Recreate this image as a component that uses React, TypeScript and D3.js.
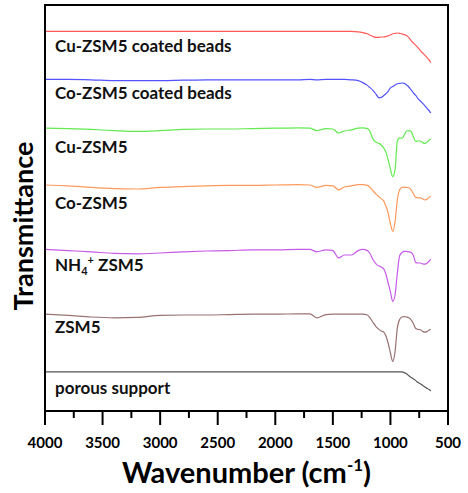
import React from 'react';
import * as d3 from 'd3';

// FTIR spectra, stacked (arbitrary transmittance units)
const wavenumbers = [
  4000, 3800, 3600, 3400, 3200, 3000, 2800, 2600, 2400, 2200,
  2000, 1800, 1700, 1640, 1560, 1500, 1450, 1400, 1340, 1280,
  1240, 1200, 1180, 1150, 1120, 1100, 1080, 1060, 1040, 1020,
  1000, 980, 960, 940, 920, 900, 880, 860, 840, 820,
  800, 780, 760, 740, 720, 700, 680, 660, 650,
];

const cuCoatedBeads = [
  94.9, 94.9, 94.9, 94.9, 94.9, 94.9, 94.9, 94.9, 94.9, 94.9,
  94.9, 94.9, 94.9, 94.9, 94.9, 94.9, 94.9, 94.9, 94.9, 94.8,
  94.6, 94.3, 94.0, 93.6, 93.4, 93.4, 93.5, 93.5, 93.6, 93.8,
  94.0, 94.3, 94.4, 94.5, 94.4, 94.3, 94.1, 93.9, 93.3, 92.6,
  92.0, 91.4, 90.8, 90.1, 89.5, 88.9, 88.3, 87.6, 87.1,
];
const coCoatedBeads = [
  82.9, 82.9, 82.8, 82.6, 82.6, 82.6, 82.7, 82.8, 82.8, 82.8,
  82.8, 82.8, 82.9, 82.8, 82.9, 82.9, 82.9, 82.9, 82.8, 82.6,
  82.1, 81.4, 80.9, 80.1, 79.0, 78.3, 78.4, 78.8, 79.3, 79.9,
  80.8, 81.1, 81.5, 81.8, 81.9, 82.0, 81.9, 81.5, 81.0, 80.3,
  79.5, 78.9, 78.1, 77.5, 76.9, 76.3, 75.6, 74.9, 74.5,
];
const cuZsm5 = [
  70.7, 70.6, 70.4, 70.1, 69.9, 70.1, 70.4, 70.5, 70.5, 70.6,
  70.7, 70.8, 70.7, 70.1, 70.6, 70.5, 69.5, 70.0, 70.3, 70.7,
  70.8, 70.6, 70.0, 67.9, 67.1, 66.9, 66.5, 65.8, 64.8, 62.8,
  60.5, 58.6, 60.3, 67.5, 68.3, 68.2, 69.0, 70.0, 70.1, 69.9,
  68.5, 67.4, 67.5, 67.5, 67.1, 66.9, 67.3, 67.8, 68.0,
];
const coZsm5 = [
  56.5, 56.3, 55.9, 55.6, 55.5, 55.9, 56.1, 56.3, 56.4, 56.4,
  56.5, 56.6, 56.5, 55.9, 56.4, 56.3, 55.3, 56.0, 56.3, 56.6,
  56.6, 56.4, 56.0, 55.0, 54.1, 53.6, 53.1, 52.6, 51.3, 49.5,
  46.8, 44.9, 47.3, 52.8, 55.3, 55.9, 55.9, 55.9, 55.8, 55.3,
  54.3, 53.4, 53.3, 53.3, 53.0, 52.8, 53.0, 53.5, 53.8,
];
const nh4Zsm5 = [
  40.4, 40.1, 39.8, 39.4, 39.3, 39.5, 39.8, 40.0, 40.1, 40.3,
  40.3, 40.4, 40.4, 39.8, 40.3, 40.1, 38.3, 39.0, 39.0, 40.1,
  40.4, 40.1, 39.5, 37.8, 36.6, 36.3, 36.0, 35.6, 34.3, 32.0,
  29.8, 27.4, 29.0, 34.5, 38.8, 39.6, 39.9, 39.9, 39.8, 39.6,
  38.8, 37.1, 37.0, 37.0, 36.8, 36.7, 37.0, 37.6, 38.0,
];
const zsm5 = [
  24.2, 23.9, 23.5, 23.3, 23.4, 23.9, 24.0, 24.0, 24.1, 24.2,
  24.2, 24.3, 24.3, 23.3, 24.1, 24.2, 24.2, 24.2, 24.2, 24.2,
  24.2, 24.0, 23.4, 22.1, 20.9, 20.4, 20.0, 19.8, 18.8, 17.0,
  14.5, 12.4, 14.8, 20.8, 22.9, 23.5, 23.6, 23.5, 23.3, 22.8,
  21.8, 20.6, 20.4, 20.3, 19.9, 19.7, 19.9, 20.3, 20.4,
];
const porousSupport = [
  9.8, 9.8, 9.8, 9.8, 9.8, 9.8, 9.8, 9.8, 9.8, 9.8,
  9.8, 9.8, 9.8, 9.8, 9.8, 9.8, 9.8, 9.8, 9.8, 9.8,
  9.8, 9.8, 9.8, 9.8, 9.8, 9.8, 9.8, 9.8, 9.8, 9.8,
  9.8, 9.8, 9.8, 9.8, 9.8, 9.8, 9.6, 9.3, 8.8, 8.4,
  8.0, 7.6, 7.1, 6.8, 6.4, 6.0, 5.6, 5.3, 5.0,
];

const seriesNames = [
  'Cu-ZSM5 coated beads',
  'Co-ZSM5 coated beads',
  'Cu-ZSM5',
  'Co-ZSM5',
  'NH4+ ZSM5',
  'ZSM5',
  'porous support',
];
const seriesValues = [cuCoatedBeads, coCoatedBeads, cuZsm5, coZsm5, nh4Zsm5, zsm5, porousSupport];
const seriesColors = ['#ff5a5a', '#5252ff', '#62ea50', '#ff9a5c', '#c85ae8', '#9a7272', '#555555'];

const xTickValues = [4000, 3500, 3000, 2500, 2000, 1500, 1000, 500];

// layout
const W = 468;
const H = 493;
const margin = { top: 5, right: 20, bottom: 82, left: 45 };
const labelY = [46, 93, 147, 203, 265, 327, 388];
const FONT = 'Lato, "Open Sans", sans-serif';

const App = () => {
  const x0 = margin.left;
  const x1 = W - margin.right;
  const y0 = margin.top;
  const y1 = H - margin.bottom;

  const xScale = d3.scaleLinear().domain([4000, 500]).range([x0, x1]);
  const yScale = d3.scaleLinear().domain([0, 101.5]).range([y1, y0]);

  const line = d3
    .line<number>()
    .x((_, i) => xScale(wavenumbers[i]))
    .y((d) => yScale(d))
    .curve(d3.curveMonotoneX);

  const minorTicks = xTickValues.slice(0, -1).map((v) => v - 250);

  return (
    <svg width={W} height={H} style={{ display: 'block', position: 'absolute', left: 0, top: 0 }}>
      <rect width={W} height={H} fill="#fff" />

      {/* spectra */}
      {seriesValues.map((vals, i) => (
        <path key={i} d={line(vals) || ''} fill="none" stroke={seriesColors[i]} strokeWidth={1.2} />
      ))}

      {/* labels */}
      {seriesNames.map((name, i) => (
        <text key={name} x={55} y={labelY[i] + 6} fontFamily={FONT} fontWeight="bold" fontSize={17} fill="#111">
          {name === 'NH4+ ZSM5' ? (
            <>
              NH
              <tspan fontSize={11} dy={4}>4</tspan>
              <tspan fontSize={11} dy={-11}>+</tspan>
              <tspan dy={7}> ZSM5</tspan>
            </>
          ) : (
            name
          )}
        </text>
      ))}

      {/* frame */}
      <rect x={x0} y={y0} width={x1 - x0} height={y1 - y0} fill="none" stroke="#000" strokeWidth={2} />

      {/* x ticks */}
      {xTickValues.map((v) => (
        <line key={'M' + v} x1={xScale(v)} x2={xScale(v)} y1={y1} y2={y1 + 14} stroke="#000" strokeWidth={2} />
      ))}
      {minorTicks.map((v) => (
        <line key={'m' + v} x1={xScale(v)} x2={xScale(v)} y1={y1} y2={y1 + 7} stroke="#000" strokeWidth={2} />
      ))}
      {xTickValues.map((v) => (
        <text key={'t' + v} x={xScale(v)} y={y1 + 37} textAnchor="middle" fontFamily={FONT} fontWeight="bold" fontSize={15} fill="#000">
          {v}
        </text>
      ))}

      {/* axis titles */}
      <text x={(x0 + x1) / 2} y={483} textAnchor="middle" fontFamily={FONT} fontWeight="bold" fontSize={29} fill="#000">
        Wavenumber (cm
        <tspan fontSize={17} dy={-12}>-1</tspan>
        <tspan dy={12}>)</tspan>
      </text>
      <text
        transform={`translate(33, ${(y0 + y1) / 2 + 18}) rotate(-90)`}
        textAnchor="middle"
        fontFamily={FONT}
        fontWeight="bold"
        fontSize={27}
        fill="#000"
      >
        Transmittance
      </text>
    </svg>
  );
};

export default App;
